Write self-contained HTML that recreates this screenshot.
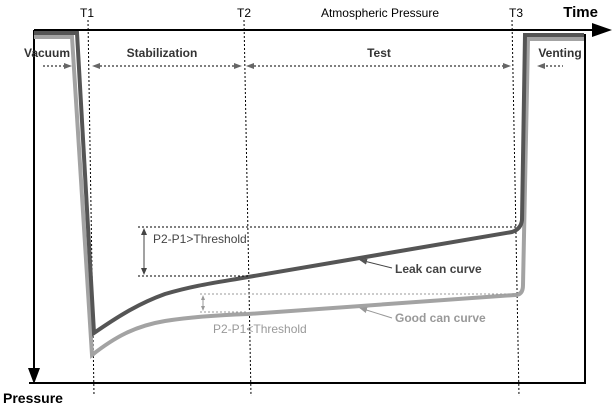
<!DOCTYPE html>
<html><head><style>body{margin:0;background:#fff}svg{display:block}text{font-family:"Liberation Sans",Arial,sans-serif}</style></head><body>
<svg width="612" height="408" viewBox="0 0 612 408">
<defs>
<marker id="a" markerWidth="8" markerHeight="6" refX="7" refY="3" orient="auto"><path d="M0,0 L8,3 L0,6 z" fill="#555"/></marker>
<marker id="g" markerWidth="8" markerHeight="6" refX="7" refY="3" orient="auto"><path d="M0,0 L8,3 L0,6 z" fill="#999"/></marker>
</defs>
<line x1="34" y1="30" x2="596" y2="30" stroke="#000" stroke-width="2"/>
<path d="M592,23 L612,30 L592,37 z" fill="#000"/>
<line x1="34" y1="30" x2="34" y2="372" stroke="#000" stroke-width="2"/>
<path d="M28,368 L34,384 L40,368 z" fill="#000"/>
<polyline points="29,383 585,383 585,34" fill="none" stroke="#000" stroke-width="2"/>
<g stroke="#000" stroke-width="1" stroke-dasharray="2,2">
<line x1="88" y1="20" x2="94" y2="396"/>
<line x1="244" y1="20" x2="251" y2="396"/>
<line x1="512" y1="20" x2="519" y2="396"/>
</g>
<g font-size="12" fill="#000">
<text x="87" y="17" text-anchor="middle">T1</text>
<text x="244" y="17" text-anchor="middle">T2</text>
<text x="380" y="17" text-anchor="middle">Atmospheric Pressure</text>
<text x="516" y="17" text-anchor="middle">T3</text>
<text x="598" y="17" text-anchor="end" font-weight="bold" font-size="15">Time</text>
</g>
<g font-size="12" fill="#333" font-weight="bold">
<text x="47" y="57" text-anchor="middle">Vacuum</text>
<text x="162" y="57" text-anchor="middle">Stabilization</text>
<text x="379" y="57" text-anchor="middle">Test</text>
<text x="560" y="57" text-anchor="middle">Venting</text>
</g>
<g stroke="#333" stroke-width="1.2" stroke-dasharray="2,2" fill="none">
<line x1="43" y1="66" x2="66" y2="66"/>
<line x1="100" y1="66" x2="234" y2="66"/>
<line x1="254" y1="66" x2="504" y2="66"/>
<line x1="546" y1="66" x2="563" y2="66"/>
</g>
<g fill="#666">
<path d="M64,63 L72,66 L64,69 z"/>
<path d="M100,63 L92,66 L100,69 z"/>
<path d="M234,63 L242,66 L234,69 z"/>
<path d="M254,63 L246,66 L254,69 z"/>
<path d="M503,63 L511,66 L503,69 z"/>
<path d="M545,63 L537,66 L545,69 z"/>
</g>
<path d="M34,37 L72,37 L92,355 C115,337 135,326 165,321 C190,317 220,315 248,314 L515,295 Q523,295 523,285 L528,39 L584,39" fill="none" stroke="#a3a3a3" stroke-width="4"/>
<path d="M34,33 L77,33 L94,333 C120,315 140,303 165,294 C195,285 220,282 248,277 L512,232 Q521,229 522,220 L525,35 L584,35" fill="none" stroke="#555" stroke-width="4"/>
<g stroke="#000" stroke-width="1" stroke-dasharray="2,2">
<line x1="138" y1="227" x2="518" y2="227"/>
<line x1="138" y1="276" x2="248" y2="276"/>
</g>
<g stroke="#999" stroke-width="1" stroke-dasharray="2,2">
<line x1="200" y1="294" x2="518" y2="294"/>
<line x1="200" y1="312" x2="248" y2="312"/>
</g>
<line x1="144" y1="231" x2="144" y2="272" stroke="#444"/>
<path d="M141,235 L144,228 L147,235 z M141,268 L144,275 L147,268z" fill="#444"/>
<line x1="203" y1="298" x2="203" y2="308" stroke="#999"/>
<path d="M201,300 L203,295 L205,300 z M201,306 L203,311 L205,306z" fill="#999"/>
<text x="153" y="243" font-size="12" fill="#444">P2-P1&gt;Threshold</text>
<text x="213" y="333" font-size="12" fill="#999">P2-P1&lt;Threshold</text>
<line x1="392" y1="268" x2="360" y2="260" stroke="#444" marker-end="url(#a)"/>
<text x="395" y="273" font-size="12" font-weight="bold" fill="#444">Leak can curve</text>
<line x1="392" y1="318" x2="360" y2="308" stroke="#999" marker-end="url(#g)"/>
<text x="395" y="322" font-size="12" font-weight="bold" fill="#999">Good can curve</text>
<text x="3" y="403" font-size="14" font-weight="bold" fill="#000">Pressure</text>
</svg>
</body></html>
